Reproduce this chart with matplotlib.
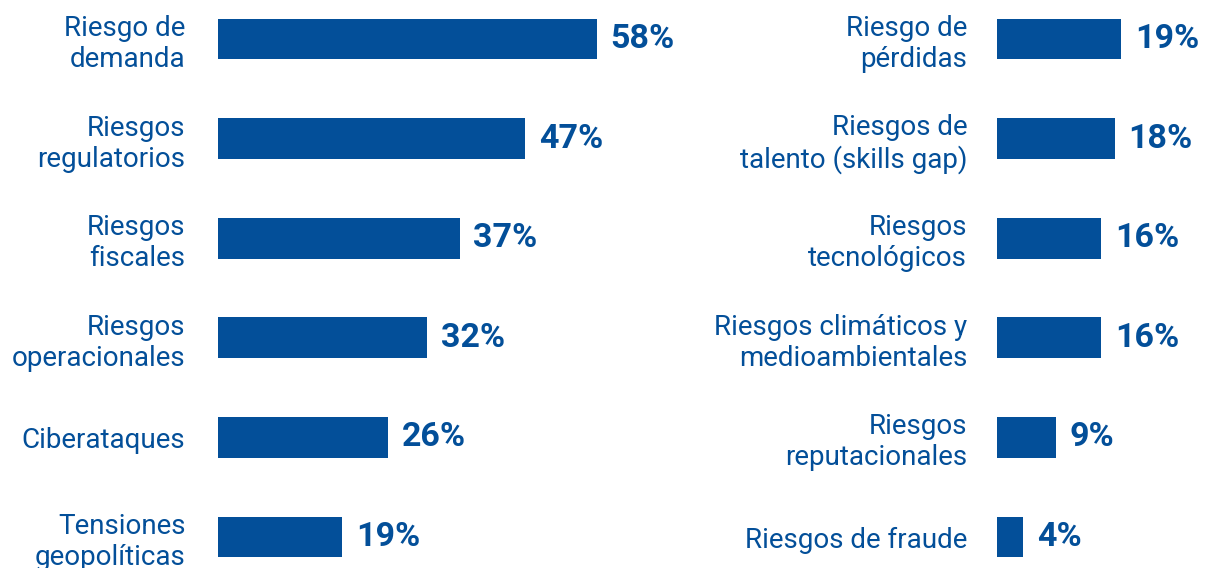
import matplotlib
matplotlib.use("Agg")
import matplotlib.pyplot as plt
from matplotlib import font_manager

left_labels = ["Riesgo de\ndemanda", "Riesgos\nregulatorios", "Riesgos\nfiscales",
               "Riesgos\noperacionales", "Ciberataques", "Tensiones\ngeopolíticas"]
left_values = [58, 47, 37, 32, 26, 19]
right_labels = ["Riesgo de\npérdidas", "Riesgos de\ntalento (skills gap)", "Riesgos\ntecnológicos",
                "Riesgos climáticos y\nmedioambientales", "Riesgos\nreputacionales", "Riesgos de fraude"]
right_values = [19, 18, 16, 16, 9, 4]

BLUE = "#034F99"
names = {f.name for f in font_manager.fontManager.ttflist}
fam = ["Liberation Sans Narrow", "Roboto", "DejaVu Sans"]
fam = [f for f in fam if f in names] or ["DejaVu Sans"]
plt.rcParams['font.family'] = fam

W, H = 1207, 568
fig = plt.figure(figsize=(W / 100, H / 100), dpi=100)
pxu = 6.53
row = 99.6
top_px = 39 - 0.5 * row
bot_px = 537 + 0.5 * row

def make_ax(x0, xmax, labels, values, pad):
    ax = fig.add_axes([x0 / W, (H - bot_px) / H, xmax * pxu / W, (bot_px - top_px) / H])
    pos = list(range(len(values)))
    bars = ax.barh(pos, values, height=0.41, color=BLUE)
    ax.set_ylim(len(values) - 0.5, -0.5)
    ax.set_xlim(0, xmax)
    ax.set_yticks(pos, labels)
    for t in ax.get_yticklabels():
        t.set_fontsize(20)
        t.set_color(BLUE)
        t.set_linespacing(1.19)
        t.set_horizontalalignment('right')
    ax.tick_params(axis='y', length=0, pad=pad)
    ax.set_xticks([])
    for s in ax.spines.values():
        s.set_visible(False)
    ax.patch.set_visible(False)
    ax.bar_label(bars, labels=[f"{v}%" for v in values], padding=10,
                 fontsize=24.5, fontweight='bold', color=BLUE)
    return ax

make_ax(218, 70, left_labels, left_values, 23.5)
make_ax(997, 30, right_labels, right_values, 21.5)

fig.savefig("out.png", dpi=100)
